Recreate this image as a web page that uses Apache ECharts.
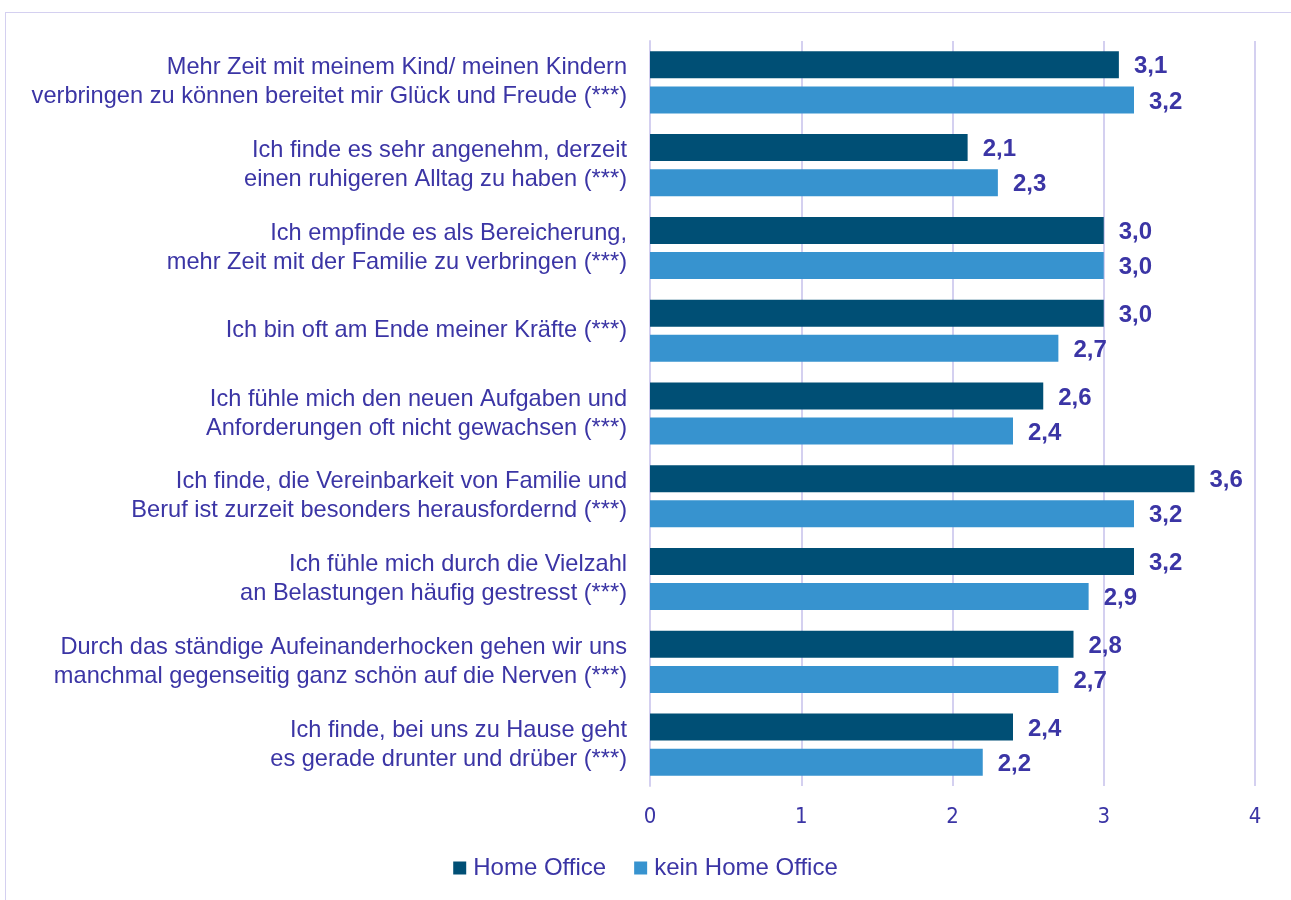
<!DOCTYPE html>
<html><head><meta charset="utf-8">
<script src="https://cdn.jsdelivr.net/npm/echarts@6/dist/echarts.min.js"></script>
<style>
html,body{margin:0;padding:0;background:#fff;}
#frame{position:absolute;left:5px;top:12px;width:1300px;height:900px;border:1.5px solid #d4d0f0;box-sizing:border-box;}
#c{position:absolute;left:0;top:0;width:1291px;height:900px;}
</style></head>
<body>
<div id="frame"></div>
<div id="c"></div>
<script>
const categories = [
  "Mehr Zeit mit meinem Kind/ meinen Kindern\nverbringen zu können bereitet mir Glück und Freude (***)",
  "Ich finde es sehr angenehm, derzeit\neinen ruhigeren Alltag zu haben (***)",
  "Ich empfinde es als Bereicherung,\nmehr Zeit mit der Familie zu verbringen (***)",
  "Ich bin oft am Ende meiner Kräfte (***)",
  "Ich fühle mich den neuen Aufgaben und\nAnforderungen oft nicht gewachsen (***)",
  "Ich finde, die Vereinbarkeit von Familie und\nBeruf ist zurzeit besonders herausfordernd (***)",
  "Ich fühle mich durch die Vielzahl\nan Belastungen häufig gestresst (***)",
  "Durch das ständige Aufeinanderhocken gehen wir uns\nmanchmal gegenseitig ganz schön auf die Nerven (***)",
  "Ich finde, bei uns zu Hause geht\nes gerade drunter und drüber (***)"
];
const homeOffice = [3.1, 2.1, 3.0, 3.0, 2.6, 3.6, 3.2, 2.8, 2.4];
const keinHomeOffice = [3.2, 2.3, 3.0, 2.7, 2.4, 3.2, 2.9, 2.7, 2.2];
const seriesNames = ["Home Office", "kein Home Office"];
const xTicks = [0, 1, 2, 3, 4];

const txt = '#3b35a5';
const fmt = p => p.value.toFixed(1).replace('.', ',');
const chart = echarts.init(document.getElementById('c'), null, {renderer: 'canvas'});
const labelCfg = {show: true, position: 'right', distance: 15, offset: [0, 2], formatter: fmt,
  color: txt, fontWeight: 'bold', fontSize: 24, fontFamily: 'Liberation Sans, Arial, sans-serif'};
chart.setOption({
  animation: false,
  textStyle: {fontFamily: 'Liberation Sans, Arial, sans-serif'},
  grid: {left: 650, right: 36, top: 41, bottom: 114, containLabel: false},
  legend: {
    bottom: 15, left: 'center', itemWidth: 13, itemHeight: 13, itemGap: 28,
    icon: 'rect', data: seriesNames,
    textStyle: {color: txt, fontSize: 24, padding: [0,0,0,2]}
  },
  xAxis: {
    type: 'value', min: xTicks[0], max: xTicks[xTicks.length-1], interval: 1,
    axisLine: {show: false}, axisTick: {show: false},
    splitLine: {show: true, lineStyle: {color: '#d4d0f0', width: 2}},
    axisLabel: {color: txt, fontSize: 22, margin: 20, fontFamily: '"Liberation Sans Narrow", "Arial Narrow", "DejaVu Sans Condensed", sans-serif'}
  },
  yAxis: {
    type: 'category', data: categories, inverse: true,
    axisLine: {show: true, lineStyle: {color: '#d4d0f0', width: 2}},
    axisTick: {show: false},
    axisLabel: {color: txt, fontSize: 23.6, lineHeight: 29, align: 'right', margin: 23}
  },
  series: [
    {name: seriesNames[0], type: 'bar', data: homeOffice, barWidth: 27, barGap: '30%',
      itemStyle: {color: '#004f75'}, label: labelCfg},
    {name: seriesNames[1], type: 'bar', data: keinHomeOffice, barWidth: 27, barGap: '30%',
      itemStyle: {color: '#3793cf'}, label: labelCfg}
  ]
});
</script>
</body></html>
